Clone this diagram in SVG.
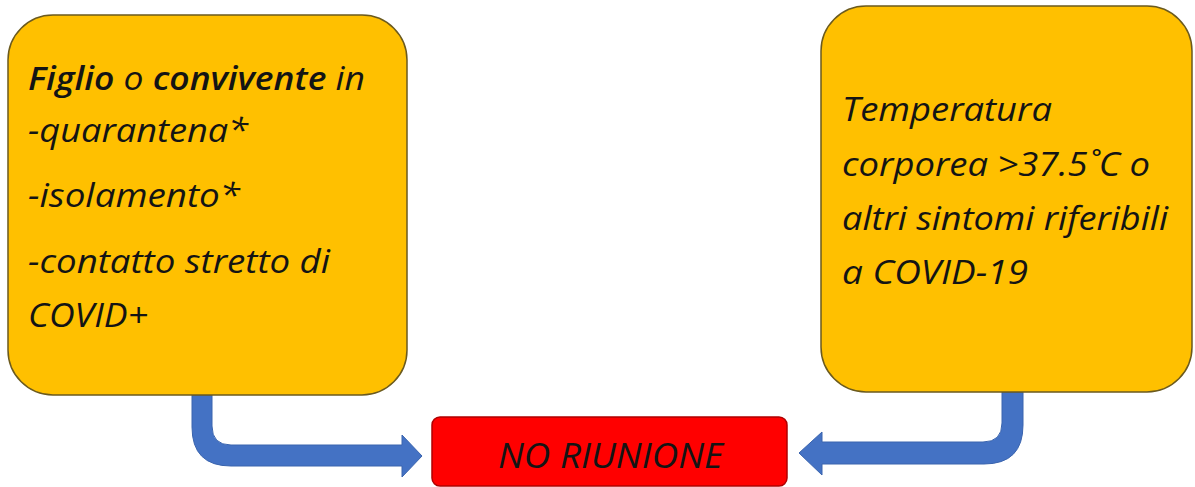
<svg xmlns="http://www.w3.org/2000/svg" width="1195" height="487" viewBox="0 0 1195 487">
<style>
.box{fill:#FFC000;stroke:#6B5A1E;stroke-width:1.5}
.red{fill:#FF0000;stroke:#B00000;stroke-width:1.5}
.arrow{fill:#4472C4;stroke:#3A64AE;stroke-width:1}
.t{font-family:"Open Sans",Lato,sans-serif;font-style:italic;font-size:32px;fill:#141414}
.b{font-weight:600}
.big{font-family:"Open Sans",Lato,sans-serif;font-style:italic;font-size:35px;fill:#141414}
</style>
<rect width="1195" height="487" fill="#fff"/>
<g id="connectors">
<path class="arrow" d="M192 395 L212 395 L212 426 Q212 445 231 445 L402 445 L402 435 L422 456 L402 477 L402 466 L231 466 Q192 466 192 427 Z"/>
<path class="arrow" d="M1023 392 L1002 392 L1002 423 Q1002 442 983 442 L822 442 L822 432 L799 453 L822 475 L822 464 L984 464 Q1023 464 1023 425 Z"/>
</g>
<g id="node-left">
<rect class="box" x="8" y="15" width="399" height="380" rx="45"/>
<text class="t" x="28" y="90" textLength="337" lengthAdjust="spacingAndGlyphs"><tspan class="b">Figlio</tspan> o <tspan class="b">convivente</tspan> in</text>
<text class="t" x="28" y="142" textLength="220" lengthAdjust="spacingAndGlyphs">-quarantena*</text>
<text class="t" x="28" y="207" textLength="212" lengthAdjust="spacingAndGlyphs">-isolamento*</text>
<text class="t" x="28" y="273" textLength="302" lengthAdjust="spacingAndGlyphs">-contatto stretto di</text>
<text class="t" x="28" y="327" textLength="120" lengthAdjust="spacingAndGlyphs">COVID+</text>
</g>
<g id="node-right">
<rect class="box" x="821" y="6" width="371" height="386" rx="45"/>
<text class="t" x="842" y="121" textLength="210" lengthAdjust="spacingAndGlyphs">Temperatura</text>
<text class="t" x="842" y="176" textLength="308" lengthAdjust="spacingAndGlyphs">corporea &gt;37.5˚C o</text>
<text class="t" x="842" y="230" textLength="326" lengthAdjust="spacingAndGlyphs">altri sintomi riferibili</text>
<text class="t" x="842" y="284" textLength="186" lengthAdjust="spacingAndGlyphs">a COVID-19</text>
</g>
<g id="node-bottom">
<rect class="red" x="432" y="417" width="355" height="69" rx="8"/>
<text class="big" x="498" y="468" textLength="225" lengthAdjust="spacingAndGlyphs">NO RIUNIONE</text>
</g>
</svg>
